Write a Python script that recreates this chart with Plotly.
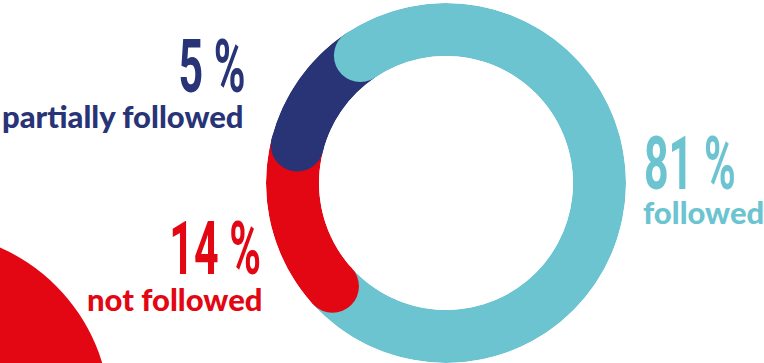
import plotly.graph_objects as go

# ---- data ----
labels = ["followed", "not followed", "partially followed"]
percent = [81, 14, 5]
colors = ["#6CC4D0", "#E30613", "#283476"]
# drawn arc spans (degrees, clockwise) and start angle of first arc
arc_spans = [261.6, 56.6, 41.8]
arc_start = 326.1

W, H = 764, 363
cx, cy, R, r_in = 446, 183, 180, 127

starts = []
a = arc_start
for s in arc_spans:
    starts.append(a % 360)
    a += s
centers = [(st + sp / 2) % 360 for st, sp in zip(starts, arc_spans)]

fig = go.Figure()
for lab, c, th, sp in zip(labels, colors, centers, arc_spans):
    fig.add_trace(go.Barpolar(
        r=[1], theta=[th], width=[sp], base=0,
        marker=dict(color=c, line=dict(width=0)),
        name=lab, showlegend=False, hoverinfo="skip"))

# rounded caps at the start of each arc
for lab, c, st in zip(labels, colors, starts):
    fig.add_trace(go.Scatterpolar(
        r=[0.5], theta=[st], mode="markers",
        marker=dict(color=c, size=(R - r_in), line=dict(width=0)),
        showlegend=False, hoverinfo="skip", cliponaxis=False))

fig.update_layout(
    width=W, height=H,
    margin=dict(l=0, r=0, t=0, b=0),
    paper_bgcolor="white", plot_bgcolor="white",
    polar=dict(
        domain=dict(x=[(cx - R) / W, (cx + R) / W],
                    y=[(H - cy - R) / H, (H - cy + R) / H]),
        hole=r_in / R,
        bgcolor="rgba(0,0,0,0)",
        radialaxis=dict(visible=False, range=[0, 1]),
        angularaxis=dict(visible=False, rotation=90, direction="clockwise",
                         showgrid=False, showline=False, ticks=""),
    ),
)

# decorative red circle bottom-left
fig.add_shape(type="circle", xref="paper", yref="paper",
              x0=(-74 - 184) / W, x1=(-74 + 184) / W,
              y0=(H - 416 - 184) / H, y1=(H - 416 + 184) / H,
              fillcolor="#E30613", line=dict(width=0), layer="below")

big = "Roboto"
lab_font = "Lato"

def ann(text, x, y, anchor, color, size, family, weight="bold"):
    fig.add_annotation(text=text, x=x / W, y=1 - y / H, xref="paper", yref="paper",
                       xanchor=anchor, yanchor="middle", showarrow=False,
                       font=dict(family=family, size=size, color=color, weight=weight))

ann(f"{percent[2]} %", 248, 66, "right", colors[2], 74, big)
ann(labels[2], 246, 116, "right", colors[2], 31, lab_font, 900)
ann(f"{percent[1]} %", 263, 248, "right", colors[1], 74, big)
ann(labels[1], 265, 299, "right", colors[1], 31, lab_font, 900)
ann(f"{percent[0]} %", 642, 163, "left", colors[0], 74, big)
ann(labels[0], 641, 212, "left", colors[0], 31, lab_font, 900)

# condense the big percentage numbers horizontally (tall narrow display type)
js = """
var gd = document.getElementById('{plot_id}');
gd.querySelectorAll('text.annotation-text').forEach(function(t){
  if (t.textContent.indexOf('%') >= 0) {
    var left = t.getBoundingClientRect().left > 382;
    t.style.transformBox = 'fill-box';
    t.style.transformOrigin = (left ? 'left' : 'right') + ' center';
    t.style.transform = 'scaleX(0.58)';
  }
});
"""
fig.write_html("out.html", post_script=js)
